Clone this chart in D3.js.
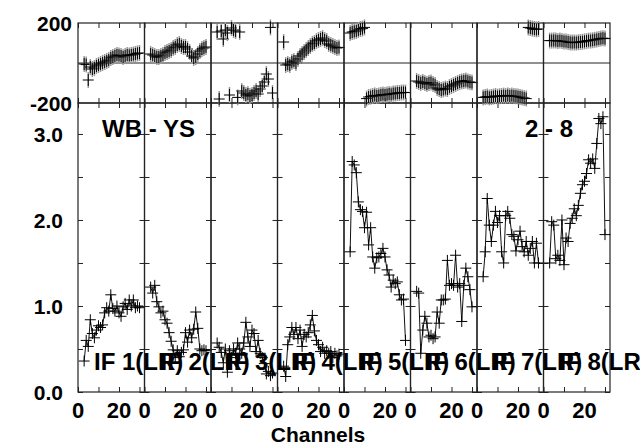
<!DOCTYPE html>
<html>
<head>
<meta charset="utf-8">
<script src="https://cdn.jsdelivr.net/npm/d3@7/dist/d3.min.js"></script>
<style>
body{margin:0;background:#fff;}
</style>
</head>
<body>
<div class="possm"></div>
<script>
/*  ======== Data ============= */
var ifLabels = ['IF 1(LR)','IF 2(LR)','IF 3(LR)','IF 4(LR)','IF 5(LR)','IF 6(LR)','IF 7(LR)','IF 8(LR)'];
var channels = [3,4,5,6,7,8,9,10,11,12,13,14,15,16,17,18,19,20,21,22,23,24,25,26,27,28,29,30];

var amp1 = [0.36,0.60,0.53,0.84,0.68,0.63,0.72,0.77,0.75,0.78,0.92,0.98,0.94,1.13,0.97,0.94,1.00,0.92,0.88,0.99,1.03,0.96,1.07,1.00,1.07,0.98,1.00,0.98];
var amp2 = [1.22,1.15,1.24,1.05,0.99,0.92,0.94,0.84,0.80,0.69,0.59,0.49,0.40,0.48,0.41,0.46,0.49,0.69,0.58,0.72,0.63,0.73,0.93,0.74,0.50,0.48,0.49,0.48];
var amp3 = [0.57,0.52,0.46,0.34,0.50,0.23,0.48,0.40,0.50,0.45,0.57,0.50,0.45,0.57,0.81,0.64,0.53,0.72,0.68,0.47,0.60,0.45,0.40,0.33,0.21,0.24,0.19,0.22];
var amp4 = [0.30,0.18,0.55,0.64,0.75,0.67,0.75,0.62,0.72,0.53,0.67,0.64,0.69,0.78,0.89,0.71,0.60,0.55,0.47,0.52,0.45,0.48,0.45,0.47,0.40,0.45,0.42,0.44];
var amp5 = [1.63,2.68,2.64,2.55,2.21,2.12,2.10,1.91,2.09,1.71,1.91,1.57,1.44,1.56,1.57,1.61,1.67,1.57,1.42,1.36,1.22,1.30,1.26,1.28,1.13,1.07,1.08,0.60];
var amp6 = [1.17,1.15,0.45,0.72,0.88,0.80,0.64,0.66,0.62,0.64,0.93,0.80,1.07,1.07,1.08,1.53,1.24,1.26,1.24,1.59,1.22,1.26,0.82,1.24,1.44,1.34,1.19,0.99];
var amp7 = [1.34,1.63,2.25,1.94,1.75,1.94,2.10,1.97,2.05,1.63,1.50,2.05,2.10,2.02,1.83,1.81,1.64,1.77,1.87,1.69,1.63,1.75,1.59,1.67,1.75,1.50,1.73,1.50];
var amp8 = [1.50,1.98,1.94,1.55,1.59,1.53,2.00,1.48,1.79,1.75,1.96,2.02,2.13,2.05,2.17,2.31,2.41,2.45,2.54,2.70,2.66,2.71,2.60,2.89,3.18,3.12,3.20,1.83];

var pha1 = [-5,-8,-85,-20,-30,-25,-15,-10,-5,0,5,10,15,25,30,35,40,38,35,30,35,40,38,40,42,45,48,50];
var pha2 = [45,40,35,30,30,35,40,50,55,60,65,75,80,90,95,85,80,80,70,55,35,25,30,45,60,70,75,80];
var pha3 = [155,-180,160,120,165,150,-160,175,165,160,-172,155,-140,-150,-160,-155,-165,-160,-150,-140,-155,-130,-115,-95,-55,-80,178,-150];
var pha4 = [105,-10,-5,-10,5,10,0,20,35,45,55,65,75,85,95,100,110,115,120,125,115,110,95,90,85,80,75,78];
var pha5 = [150,155,158,160,165,170,172,178,-178,-170,-168,-165,-162,-165,-163,-160,-158,-160,-158,-155,-157,-153,-152,-150,-150,-148,-147,-148];
var pha6 = [-90,-95,-100,-95,-100,-105,-100,-98,-105,-110,-125,-130,-135,-132,-128,-130,-120,-115,-110,-105,-100,-95,-92,-90,-88,-92,-95,-98];
var pha7 = [-172,-170,-168,-172,-170,-168,-165,-168,-166,-165,-163,-165,-162,-165,-163,-165,-166,-168,-170,-172,-175,-178,178,175,172,170,168,170];
var pha8 = [112,112,113,112,110,112,110,108,107,105,103,102,103,102,104,105,106,108,110,112,112,114,116,118,120,122,124,122];

var ampTicks = [0,0.5,1,1.5,2,2.5,3];
var ampLabels = [0,1,2,3];
var phaTicks = [-200,200];
var chanTicks = [0,10,20,30];
var chanLabels = [0,20];
var sourceText = 'WB - YS';
var baselineText = '2 - 8';
var xTitle = 'Channels';
/*  ======== Data ============= */

var amps = [amp1,amp2,amp3,amp4,amp5,amp6,amp7,amp8];
var phas = [pha1,pha2,pha3,pha4,pha5,pha6,pha7,pha8];

var width = 640, height = 445;
var left = 78, right = 610;
var phTop = 23, phBottom = 103, ampBottom = 392;
var panelW = (right-left)/ifLabels.length;
var chanMax = 32.44;
var font = '"Liberation Sans", Arial, Helvetica, sans-serif';
var lineColor = '#222';
var tick = 5;

var svg = d3.select('.possm')
			.append('svg')
			.attr('width', width)
			.attr('height', height)
			.style('font-family', font)
			.style('font-weight', 'bold');

var yAmp = d3.scaleLinear().domain([0, 3.36]).range([ampBottom, phBottom]);
var yPha = d3.scaleLinear().domain([-200, 200]).range([phBottom, phTop]);

function plusPath(w, h){
	return 'M'+(-w/2)+',0H'+(w/2)+'M0,'+(-h/2)+'V'+(h/2);
}
function cleanAxis(g){
	g.select('.domain').remove();
	g.selectAll('line').attr('stroke', lineColor).attr('stroke-width', 1);
	g.selectAll('text').remove();
}

var i, j;
for(i = 0; i < ifLabels.length; i++){
	var x0 = left + panelW*i;
	var x = d3.scaleLinear().domain([0, chanMax]).range([x0, x0+panelW]);
	var g = svg.append('g');

	// tick marks, all pointing inward
	g.append('g').attr('transform','translate(0,'+ampBottom+')')
		.call(d3.axisBottom(x).tickValues(chanTicks).tickSize(-tick)).call(cleanAxis);
	g.append('g').attr('transform','translate(0,'+phBottom+')')
		.call(d3.axisTop(x).tickValues(chanTicks).tickSize(-tick)).call(cleanAxis);
	g.append('g').attr('transform','translate(0,'+phBottom+')')
		.call(d3.axisBottom(x).tickValues(chanTicks).tickSize(-tick)).call(cleanAxis);
	g.append('g').attr('transform','translate(0,'+phTop+')')
		.call(d3.axisTop(x).tickValues(chanTicks).tickSize(-tick)).call(cleanAxis);
	g.append('g').attr('transform','translate('+x0+',0)')
		.call(d3.axisLeft(yAmp).tickValues(ampTicks).tickSize(-tick)).call(cleanAxis);
	g.append('g').attr('transform','translate('+(x0+panelW)+',0)')
		.call(d3.axisRight(yAmp).tickValues(ampTicks).tickSize(-tick)).call(cleanAxis);

	// borders
	g.append('rect')
		.attr('x', x0).attr('y', phTop)
		.attr('width', panelW).attr('height', phBottom-phTop)
		.attr('fill', 'none').attr('stroke', lineColor).attr('stroke-width', 1.2);
	g.append('rect')
		.attr('x', x0).attr('y', phBottom)
		.attr('width', panelW).attr('height', ampBottom-phBottom)
		.attr('fill', 'none').attr('stroke', lineColor).attr('stroke-width', 1.2);
	g.append('line')
		.attr('x1', x0).attr('x2', x0+panelW)
		.attr('y1', yPha(0)).attr('y2', yPha(0))
		.attr('stroke', lineColor).attr('stroke-width', 1.2);

	// channel labels
	for(j = 0; j < chanLabels.length; j++){
		g.append('text')
			.attr('x', x(chanLabels[j]))
			.attr('y', ampBottom+26)
			.attr('text-anchor', 'middle')
			.attr('font-size', 22)
			.attr('fill', '#000')
			.text(chanLabels[j]);
	}

	// phase markers
	var ph = phas[i];
	for(j = 0; j < channels.length; j++){
		g.append('line')
			.attr('x1', x(channels[j])).attr('x2', x(channels[j]))
			.attr('y1', yPha(ph[j])-8).attr('y2', yPha(ph[j])+8)
			.attr('stroke', '#999').attr('stroke-width', 1.5);
		g.append('path')
			.attr('d', plusPath(11, 12))
			.attr('transform', 'translate('+x(channels[j])+','+yPha(ph[j])+')')
			.attr('fill', 'none').attr('stroke', '#000').attr('stroke-width', 1);
	}

	// amplitude line + markers
	var am = amps[i];
	var line = d3.line()
		.x(function(d, k){ return x(channels[k]); })
		.y(function(d){ return yAmp(d); });
	g.append('path')
		.datum(am)
		.attr('d', line)
		.attr('fill', 'none')
		.attr('stroke', '#111')
		.attr('stroke-width', 1);
	for(j = 0; j < channels.length; j++){
		g.append('path')
			.attr('d', plusPath(11, 11))
			.attr('transform', 'translate('+x(channels[j])+','+yAmp(am[j])+')')
			.attr('fill', 'none').attr('stroke', '#000').attr('stroke-width', 1);
	}
}

// IF labels, drawn last so they overlap each other like the original
for(i = 0; i < ifLabels.length; i++){
	svg.append('text')
		.attr('x', left + panelW*i + 16)
		.attr('y', 370)
		.attr('font-size', 24)
		.attr('fill', '#000')
		.text(ifLabels[i]);
}

// y labels
for(i = 0; i < ampLabels.length; i++){
	svg.append('text')
		.attr('x', 63)
		.attr('y', yAmp(ampLabels[i])+8)
		.attr('text-anchor', 'end')
		.attr('font-size', 21)
		.attr('fill', '#000')
		.text(d3.format('.1f')(ampLabels[i]));
}
for(i = 0; i < phaTicks.length; i++){
	svg.append('text')
		.attr('x', 72)
		.attr('y', yPha(phaTicks[i])+8)
		.attr('text-anchor', 'end')
		.attr('font-size', 21)
		.attr('fill', '#000')
		.text(phaTicks[i]);
}

svg.append('text')
	.attr('x', 102).attr('y', 137)
	.attr('font-size', 24)
	.text(sourceText);
svg.append('text')
	.attr('x', 525).attr('y', 137)
	.attr('font-size', 24)
	.text(baselineText);
svg.append('text')
	.attr('x', 318).attr('y', 442)
	.attr('text-anchor', 'middle')
	.attr('font-size', 21)
	.text(xTitle);
</script>
</body>
</html>
